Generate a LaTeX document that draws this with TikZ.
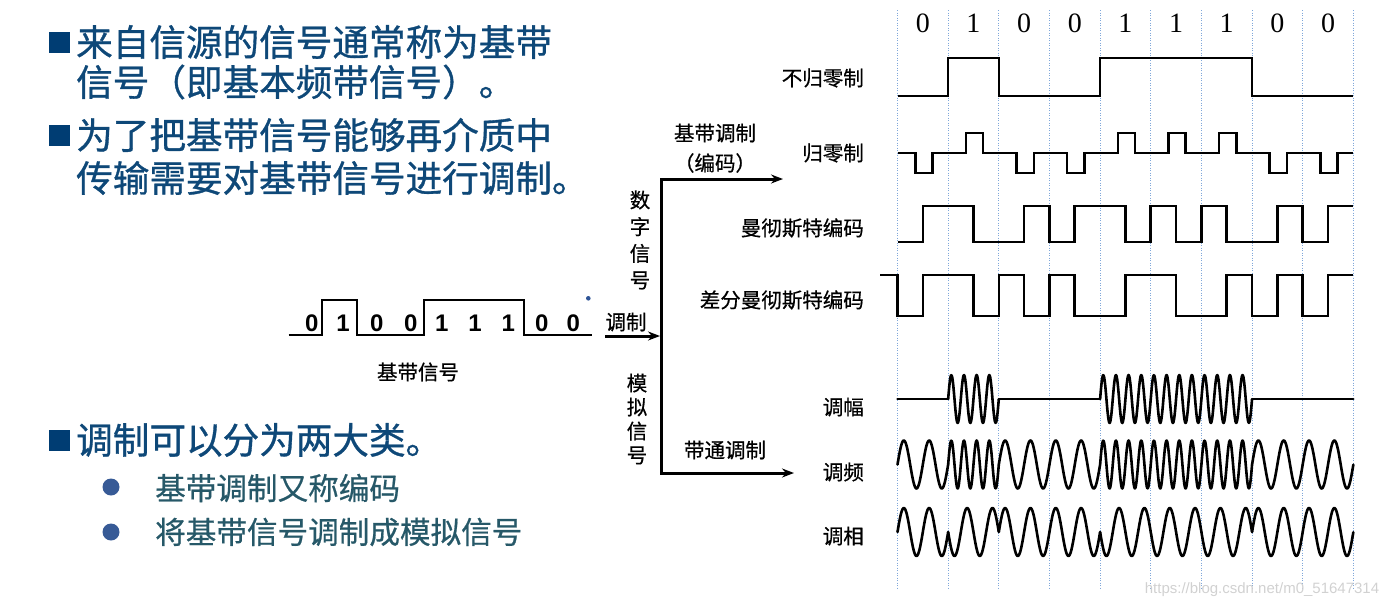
\documentclass[tikz,border=0pt]{standalone}
\usepackage{fontspec}
\setmainfont{Noto Sans CJK SC}
\newfontfamily\cjkmid{Noto Sans CJK SC}[FakeBold=0.6]
\newfontfamily\cjkbig{Noto Sans CJK SC}[FakeBold=0.9]
\newfontfamily\arialf{Liberation Sans}
\newfontfamily\timesf{Liberation Serif}
\usetikzlibrary{arrows.meta}
\definecolor{maintext}{HTML}{0E4878}
\definecolor{bulletsq}{HTML}{003D73}
\definecolor{subtext}{HTML}{265868}
\definecolor{subdot}{HTML}{375A96}
\definecolor{gridblue}{HTML}{7FA7DA}
\definecolor{dotblue}{HTML}{2F5597}
\begin{document}
\begin{tikzpicture}[x=1pt,y=-1pt,
  wave/.style={line width=2.6pt},
  curvewave/.style={line width=2.6pt,line cap=round,line join=round},
  gridline/.style={gridblue,line width=0.7pt,dash pattern=on 1pt off 1.5pt},
  bigtxt/.style={anchor=west,inner sep=0pt,text=maintext,font=\cjkbig\fontsize{36.6}{40}\selectfont},
  subtxt/.style={anchor=west,inner sep=0pt,text=subtext,font=\cjkmid\fontsize{30.6}{34}\selectfont},
  lbl/.style={inner sep=0pt,font=\cjkmid\fontsize{20.5}{24}\selectfont},
  rlbl/.style={lbl,anchor=east},
  topdigit/.style={inner sep=0pt,font=\timesf\fontsize{28}{30}\selectfont},
  bbdigit/.style={inner sep=0pt,font=\arialf\bfseries\fontsize{24}{26}\selectfont},
  arr/.style={line width=3pt,-{Stealth[length=12pt,width=9pt,inset=4pt]}},
  darr/.style={line width=3pt,{Stealth[length=12pt,width=9pt,inset=4pt]}-{Stealth[length=12pt,width=9pt,inset=4pt]}}
]
\useasboundingbox (0,0) rectangle (1395,608);

% ---------- left bullet text ----------
\fill[bulletsq] (48.5,31.5) rectangle (69.5,52.5);
\node[bigtxt] (t1) at (76,42) {来自信源的信号通常称为基带};
\node[bigtxt] (t2) at (76,82) {信号（即基本频带信号）。};
\fill[bulletsq] (48.5,124.5) rectangle (69.5,145.5);
\node[bigtxt] (t3) at (76,135) {为了把基带信号能够再介质中};
\node[bigtxt] (t4) at (76,178) {传输需要对基带信号进行调制。};
\fill[bulletsq] (48.5,429.5) rectangle (69.5,450.5);
\node[bigtxt] (t5) at (76,440) {调制可以分为两大类。};
\fill[subdot] (111,487) circle (8.5);
\node[subtxt] (s1) at (155,488) {基带调制又称编码};
\fill[subdot] (111,532) circle (8.5);
\node[subtxt] (s2) at (155,532) {将基带信号调制成模拟信号};

% ---------- baseband signal ----------
\draw[line width=2pt] (288.5,335) -- (322,335) -- (322,300) -- (357,300) -- (357,335)
  -- (424,335) -- (424,300) -- (524.3,300) -- (524.3,335) -- (592.3,335);
\foreach \x/\d [count=\k] in {311.7/0,343/1,376.7/0,410.7/0,441.7/1,475/1,508.3/1,541.7/0,573.3/0}
  \node[bbdigit] (b\k) at (\x,323) {\d};
\fill[dotblue] (588.3,298.3) circle (2.3);
\node[lbl] (bbl) at (418,372) {基带信号};

% ---------- modulation tree ----------
\coordinate (in) at (605,336);
\coordinate (jn) at (660,336);
\coordinate (top) at (661,179);
\coordinate (bot) at (661,473);
\coordinate (topend) at (783,179);
\coordinate (botend) at (794,473);
\draw[arr] (in) -- (jn);
\draw[darr,line join=miter] (topend) -- (top) -- (bot) -- (botend);
\node[lbl] (tzl) at (626,322) {调制};
\node[lbl] (jd1) at (715,133) {基带调制};
\node[lbl] (jd2) at (715,163) {（编码）};
\node[lbl,align=center,font=\cjkmid\fontsize{20.5}{26.7}\selectfont] (szx) at (640,240) {数\\字\\信\\号};
\node[lbl,align=center,font=\cjkmid\fontsize{20.5}{24}\selectfont] (mnx) at (637,419) {模\\拟\\信\\号};
\node[lbl] (dt) at (725,450) {带通调制};

\node[rlbl] (r1) at (864,78) {不归零制};
\node[rlbl] (r2) at (864,153) {归零制};
\node[rlbl] (r3) at (864,228) {曼彻斯特编码};
\node[rlbl] (r4) at (864,300) {差分曼彻斯特编码};
\node[rlbl] (r5) at (864,407) {调幅};
\node[rlbl] (r6) at (864,472) {调频};
\node[rlbl] (r7) at (864,536) {调相};

% ---------- grid and bits ----------
\foreach \i in {0,...,9}
  \draw[gridline] ({897.5+\i*50.65},10) -- ({897.5+\i*50.65},590);
\foreach \i/\d in {0/0,1/1,2/0,3/0,4/1,5/1,6/1,7/0,8/0}
  \node[topdigit] (g\i) at ({897.5+\i*50.65+25.3},23) {\d};

% NRZ
\draw[wave] (897.5,96) -- ({897.5+1*50.65},96) -- ({897.5+1*50.65},58) -- ({897.5+2*50.65},58)
  -- ({897.5+2*50.65},96) -- ({897.5+4*50.65},96) -- ({897.5+4*50.65},58)
  -- ({897.5+7*50.65},58) -- ({897.5+7*50.65},96) -- ({897.5+9*50.65},96);

% RZ
\draw[wave] (897.5,153) \foreach \i/\u in {0/173,1/133,2/173,3/173,4/133,5/133,6/133,7/173,8/173}{
  -- ({897.5+\i*50.65+17.7},153) -- ({897.5+\i*50.65+17.7},\u)
  -- ({897.5+\i*50.65+35},\u) -- ({897.5+\i*50.65+35},153) } -- ({897.5+9*50.65},153);

% Manchester
\draw[wave] (897.5,242) \foreach \i/\a/\c in {0/242/206,1/206/242,2/242/206,3/242/206,4/206/242,5/206/242,6/206/242,7/242/206,8/242/206}{
  -- ({897.5+\i*50.65},\a) -- ({897.5+\i*50.65+25.3},\a)
  -- ({897.5+\i*50.65+25.3},\c) -- ({897.5+(\i+1)*50.65},\c) };

% Differential Manchester
\draw[wave] (880,275) -- (897.5,275) \foreach \i/\a/\c in {0/316/275,1/275/316,2/275/316,3/275/316,4/316/275,5/275/316,6/316/275,7/316/275,8/316/275}{
  -- ({897.5+\i*50.65},\a) -- ({897.5+\i*50.65+25.3},\a)
  -- ({897.5+\i*50.65+25.3},\c) -- ({897.5+(\i+1)*50.65},\c) };

% AM
\foreach \b [count=\i from 0] in {0,1,0,0,1,1,1,0,0}{
  \pgfmathsetmacro\xa{897.5+\i*50.65}
  \draw[curvewave] plot[variable=\t,domain=0:1,samples=90] ({\xa+\t*50.65},{399-\b*24*sin(1440*\t)});
}
% FM
\foreach \b [count=\i from 0] in {0,1,0,0,1,1,1,0,0}{
  \pgfmathsetmacro\xa{897.5+\i*50.65}
  \pgfmathsetmacro\cyc{\b==1?4:2}
  \draw[curvewave] plot[variable=\t,domain=0:1,samples=90] ({\xa+\t*50.65},{464.5-24*sin(\cyc*360*\t)});
}
% PM
\foreach \b [count=\i from 0] in {0,1,0,0,1,1,1,0,0}{
  \pgfmathsetmacro\xa{897.5+\i*50.65}
  \pgfmathsetmacro\sg{\b==1?-1:1}
  \draw[curvewave] plot[variable=\t,domain=0:1,samples=70] ({\xa+\t*50.65},{532-\sg*24*sin(720*\t)});
}

% watermark
\node[inner sep=0pt,text=black!18,font=\arialf\fontsize{15}{17}\selectfont] (wm) at (1262,590) {https://blog.csdn.net/m0\_51647314};
\end{tikzpicture}
\end{document}
